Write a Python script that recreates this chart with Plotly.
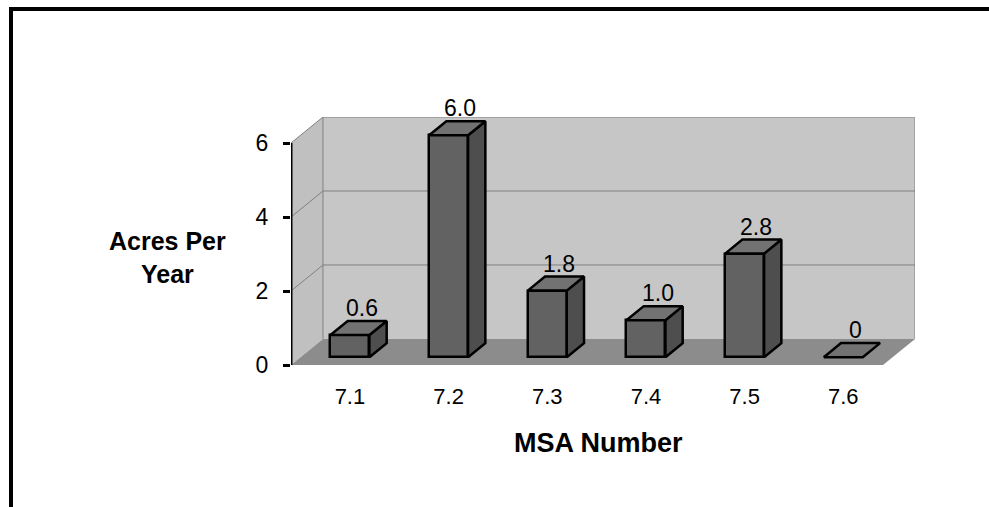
import plotly.graph_objects as go

# ---- data ----
categories = ["7.1", "7.2", "7.3", "7.4", "7.5", "7.6"]
acres_per_year = [0.6, 6.0, 1.8, 1.0, 2.8, 0.0]
value_labels = ["0.6", "6.0", "1.8", "1.0", "2.8", "0"]
y_tick_values = [0, 2, 4, 6]
y_title = "Acres Per<br>Year"
x_title = "MSA Number"

# ---- geometry of the pseudo-3D box (data units) ----
W, H = 989, 507
M_L, M_R, M_T, M_B = 291, 74, 117, 142
PW, PH = W - M_L - M_R, H - M_T - M_B

DEPTH_X = 0.324          # horizontal shift from front to back wall
DEPTH_Y = 0.704          # vertical shift from front to back wall
Y_MAX = 6
X_LO, X_HI = -0.5, len(categories) - 0.5

BAR_W = 0.395
BAR_F, BAR_B = 0.30, 0.84   # bar front / back as fraction of depth

WALL = "#c6c6c6"
SIDE_WALL = "#c0c0c0"
FLOOR = "#8c8c8c"
FACE = "#626262"
SIDE = "#4e4e4e"
TOP = "#727272"
GRID = "#808080"
FONT = "Liberation Sans, Arial"


def px_to_paper_x(px):
    return (px - M_L) / PW


def px_to_paper_y(py):
    return (H - M_B - py) / PH


fig = go.Figure()


def path(xs, ys):
    return "M " + " L ".join(f"{x},{y}" for x, y in zip(xs, ys)) + " Z"


def back_shape(xs, ys, fill):
    fig.add_shape(type="path", path=path(xs, ys), fillcolor=fill,
                  line=dict(width=0), layer="below")


# back wall, side wall and floor of the chart box
back_shape([X_LO + DEPTH_X, X_HI + DEPTH_X, X_HI + DEPTH_X, X_LO + DEPTH_X],
           [DEPTH_Y, DEPTH_Y, Y_MAX + DEPTH_Y, Y_MAX + DEPTH_Y], WALL)
back_shape([X_LO, X_LO + DEPTH_X, X_LO + DEPTH_X, X_LO],
           [0, DEPTH_Y, Y_MAX + DEPTH_Y, Y_MAX], SIDE_WALL)
back_shape([X_LO, X_HI, X_HI + DEPTH_X, X_LO + DEPTH_X],
           [0, 0, DEPTH_Y, DEPTH_Y], FLOOR)

# gridlines along side and back walls
for v in y_tick_values[1:-1]:
    fig.add_shape(type="path",
                  path=f"M {X_LO},{v} L {X_LO + DEPTH_X},{v + DEPTH_Y} L {X_HI + DEPTH_X},{v + DEPTH_Y}",
                  line=dict(color=GRID, width=1), layer="below")
# wall edges
fig.add_shape(type="path",
              path=(f"M {X_LO},{Y_MAX} L {X_LO + DEPTH_X},{Y_MAX + DEPTH_Y} "
                    f"L {X_HI + DEPTH_X},{Y_MAX + DEPTH_Y} L {X_HI + DEPTH_X},{DEPTH_Y}"),
              line=dict(color=GRID, width=1), layer="below")
fig.add_shape(type="line", x0=X_LO + DEPTH_X, x1=X_LO + DEPTH_X, y0=DEPTH_Y, y1=Y_MAX + DEPTH_Y,
              line=dict(color=GRID, width=1), layer="below")

# bars: front face as a bar trace, side and top faces as filled polygons
fx0 = BAR_F * DEPTH_X
fy0 = BAR_F * DEPTH_Y
dx = (BAR_B - BAR_F) * DEPTH_X
dy = (BAR_B - BAR_F) * DEPTH_Y
centers = [i + fx0 for i in range(len(categories))]

fig.add_trace(go.Bar(
    x=centers, y=acres_per_year, base=[fy0] * len(categories), width=BAR_W,
    marker=dict(color=FACE, line=dict(color="black", width=2.5)),
    hoverinfo="skip", showlegend=False, cliponaxis=False))


def poly(xs, ys, fill):
    fig.add_trace(go.Scatter(
        x=xs + [xs[0]], y=ys + [ys[0]], mode="lines", fill="toself",
        fillcolor=fill, line=dict(color="black", width=2.5),
        hoverinfo="skip", showlegend=False, cliponaxis=False))


for c, v in zip(centers, acres_per_year):
    xl, xr = c - BAR_W / 2, c + BAR_W / 2
    top = fy0 + v
    if v > 0:
        poly([xr, xr, xr + dx, xr + dx], [fy0, top, top + dy, fy0 + dy], SIDE)
    poly([xl, xr, xr + dx, xl + dx], [top, top, top + dy, top + dy], TOP)

# value labels above each bar
for c, v, t in zip(centers, acres_per_year, value_labels):
    fig.add_annotation(x=c + 0.12, y=v + BAR_B * DEPTH_Y, text=t, showarrow=False,
                       xanchor="center", yanchor="middle", yshift=13,
                       font=dict(family=FONT, size=23, color="black"))

# y axis line (front edge, 0..6)
fig.add_shape(type="line", x0=X_LO, x1=X_LO, y0=0, y1=Y_MAX,
              line=dict(color="black", width=3))

# axis titles
fig.add_annotation(x=px_to_paper_x(167), y=px_to_paper_y(257), xref="paper", yref="paper",
                   text="<b>" + y_title + "</b>", showarrow=False, align="center",
                   xanchor="center", yanchor="middle",
                   font=dict(family=FONT, size=25, color="black"))
fig.add_annotation(x=px_to_paper_x(598), y=px_to_paper_y(443), xref="paper", yref="paper",
                   text="<b>" + x_title + "</b>", showarrow=False,
                   xanchor="center", yanchor="middle",
                   font=dict(family=FONT, size=27, color="black"))

# outer frame (top and left edges visible)
fig.add_shape(type="line", xref="paper", yref="paper",
              x0=px_to_paper_x(11), x1=px_to_paper_x(995),
              y0=px_to_paper_y(9), y1=px_to_paper_y(9),
              line=dict(color="black", width=4))
fig.add_shape(type="line", xref="paper", yref="paper",
              x0=px_to_paper_x(11), x1=px_to_paper_x(11),
              y0=px_to_paper_y(7), y1=px_to_paper_y(515),
              line=dict(color="black", width=4))

fig.update_layout(
    width=W, height=H,
    margin=dict(l=M_L, r=M_R, t=M_T, b=M_B, pad=0),
    paper_bgcolor="white", plot_bgcolor="white",
    showlegend=False, bargap=0,
    xaxis=dict(range=[X_LO, X_HI + DEPTH_X], tickvals=centers, ticktext=categories,
               showgrid=False, zeroline=False, showline=False, ticks="",
               ticklabelstandoff=16,
               tickfont=dict(family=FONT, size=22, color="black")),
    yaxis=dict(range=[0, Y_MAX + DEPTH_Y], tickvals=y_tick_values,
               showgrid=False, zeroline=False, showline=False,
               ticks="outside", ticklen=7, tickwidth=3, tickcolor="black",
               ticklabelstandoff=10,
               tickfont=dict(family=FONT, size=23, color="black")),
)

fig.write_html("out.html")
